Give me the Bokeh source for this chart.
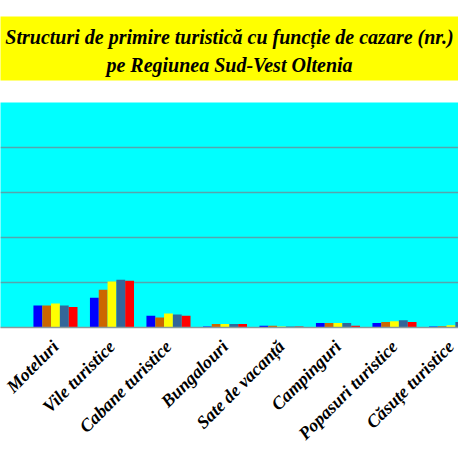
import math
from bokeh.plotting import figure
from bokeh.layouts import column
from bokeh.models import Range1d, FixedTicker, ColumnDataSource
from bokeh.core.properties import value
from bokeh.embed import file_html
from bokeh.resources import INLINE

# ---- data (the y-axis values are cut off in the reference) ----
categories = ["Moteluri", "Vile turistice", "Cabane turistice", "Bungalouri",
              "Sate de vacanță", "Campinguri", "Popasuri turistice",
              "Căsuțe turistice"]
series_names = ["Seria 1", "Seria 2", "Seria 3", "Seria 4", "Seria 5"]
series_1 = [24.4, 33, 13, 1, 2, 5, 5, 1]
series_2 = [24.4, 42, 11, 4, 2, 5, 6, 1.5]
series_3 = [26.7, 51, 15.5, 4, 1, 5, 7, 2.5]
series_4 = [24.4, 53, 14.5, 4, 1, 5, 8, 6]
series_5 = [22.8, 52, 13, 4, 1, 2, 6, 6]
series_colors = ["#0000ff", "#cc6600", "#ffff00", "#336699", "#ff0000"]
title_lines = ["Structuri de primire turistică cu funcție de cazare (nr.)",
               "pe Regiunea Sud-Vest Oltenia"]
y_grid_ticks = [0, 50, 100, 150, 200, 250]

all_series = [series_1, series_2, series_3, series_4, series_5]
x_idx = list(range(len(categories)))

FW = 458

# ---- title band (its own small figure, yellow frame) ----
tf = figure(frame_width=FW, frame_height=64, output_backend="svg", toolbar_location=None,
            x_range=Range1d(0, 1), y_range=Range1d(0, 1), title=None,
            x_axis_location=None, y_axis_location=None,
            min_border_left=0, min_border_right=0, min_border_top=16,
            min_border_bottom=22)
tf.background_fill_color = "#ffff00"
tf.border_fill_color = "#ffffff"
tf.outline_line_color = None
tf.xgrid.visible = False
tf.ygrid.visible = False
tsrc = ColumnDataSource(dict(x=[0.5, 0.5], y=[0.68, 0.25], text=title_lines))
tf.text(x="x", y="y", text="text", source=tsrc, text_align="center",
        text_baseline="middle", text_font=value("Liberation Serif"),
        text_font_style="bold italic", text_font_size="20px", text_color="#000000")

# ---- main chart ----
x_start, x_end = -0.973, 7.133
p = figure(frame_width=FW, frame_height=225, output_backend="svg", toolbar_location=None,
           x_range=Range1d(x_start, x_end), y_range=Range1d(0, 250), title=None,
           min_border_left=0, min_border_right=0, min_border_top=0,
           min_border_bottom=131)
p.background_fill_color = "#00ffff"
p.border_fill_color = "#ffffff"
p.outline_line_color = None

bar_w = 0.156
for k, (vals, col, name) in enumerate(zip(all_series, series_colors, series_names)):
    src = ColumnDataSource(dict(x=[i + (k - 2) * bar_w for i in x_idx], top=vals))
    p.vbar(x="x", top="top", width=bar_w, bottom=0, source=src,
           fill_color=col, line_color=None)

p.yaxis.visible = False
p.ygrid.ticker = FixedTicker(ticks=y_grid_ticks)
p.ygrid.grid_line_color = "#55a5ad"
p.ygrid.grid_line_width = 1.5
p.xgrid.visible = False

xa = p.xaxis[0]
xa.ticker = FixedTicker(ticks=x_idx)
xa.major_label_overrides = {i: c for i, c in zip(x_idx, categories)}
xa.major_label_orientation = math.pi / 4
xa.major_label_text_font = "Liberation Serif"
xa.major_label_text_font_style = "bold italic"
xa.major_label_text_font_size = "18px"
xa.major_label_text_color = "#000000"
xa.major_label_standoff = 10
xa.major_tick_line_color = None
xa.minor_tick_line_color = None
xa.axis_line_color = "#8a9a9c"
xa.axis_line_width = 1.5

layout = column(tf, p, spacing=0)
open("out.html", "w").write(file_html(layout, INLINE))
